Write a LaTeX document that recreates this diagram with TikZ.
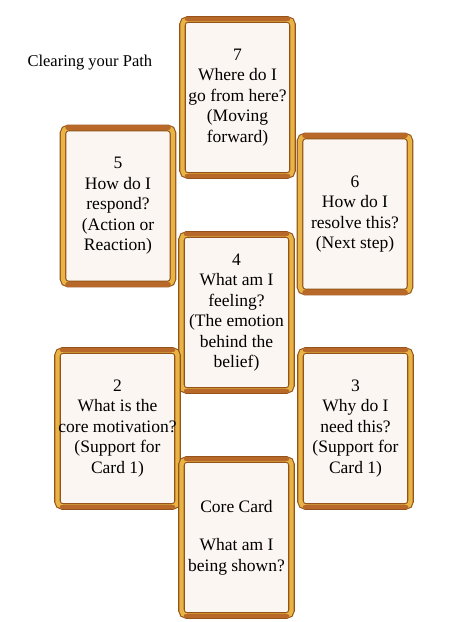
\documentclass[tikz,border=0pt]{standalone}
\usepackage{fontspec}
\setmainfont{Liberation Serif}
\definecolor{cardface}{HTML}{FBF6F2}
\definecolor{cardgold}{HTML}{E8B445}
\definecolor{cardbrown}{HTML}{95531A}
\definecolor{cardcopper}{HTML}{B8692A}
\newcommand{\cardfont}{\fontsize{17.5}{20.5}\selectfont}
\tikzset{
	card/.style={draw=cardbrown, line width=1.1pt, double=cardgold, double distance=4.4pt,
		rounded corners=5pt, fill=cardface, minimum width=110pt, minimum height=156pt,
		align=center, font=\cardfont, inner sep=1pt},
	cardbar/.style={draw=cardcopper, line width=4.4pt, line cap=round},
}

\begin{document}
\begin{tikzpicture}[x=1pt,y=-1pt]
		\useasboundingbox (0,0) rectangle (474,622);
		
		\node[anchor=west, font=\fontsize{16.5}{19}\selectfont] (title) at (24,63) {Clearing your Path};
		
		% top row
		\node[card] (c7) at (237.5,97.5) {7\\Where do I\\go from here?\\(Moving\\forward)};
		\node[card] (c5) at (118,206) {5\\How do I\\respond?\\(Action or\\Reaction)};
		\node[card] (c6) at (355,214) {6\\How do I\\resolve this?\\(Next step)};
		
		% middle
		\node[card] (c4) at (236.5,312.5) {4\\What am I\\feeling?\\(The emotion\\behind the\\belief)};
		
		% bottom row
		\node[card] (c2) at (117.5,428.5) {2\\What is the\\core motivation?\\(Support for\\Card 1)};
		\node[card] (c3) at (355.5,428.5) {3\\Why do I\\need this?\\(Support for\\Card 1)};
		\node[card] (core) at (236.5,537.5) {Core Card\\[18pt]What am I\\being shown?};
		
		% copper bars on the frames
		\foreach \c in {c7,c5,c6,c4,c2,c3,core} {
			\draw[cardbar] ([xshift=5pt]\c.north west) -- ([xshift=-5pt]\c.north east);
			\draw[cardbar] ([xshift=5pt]\c.south west) -- ([xshift=-5pt]\c.south east);
		}
		
	\end{tikzpicture}
\end{document}
